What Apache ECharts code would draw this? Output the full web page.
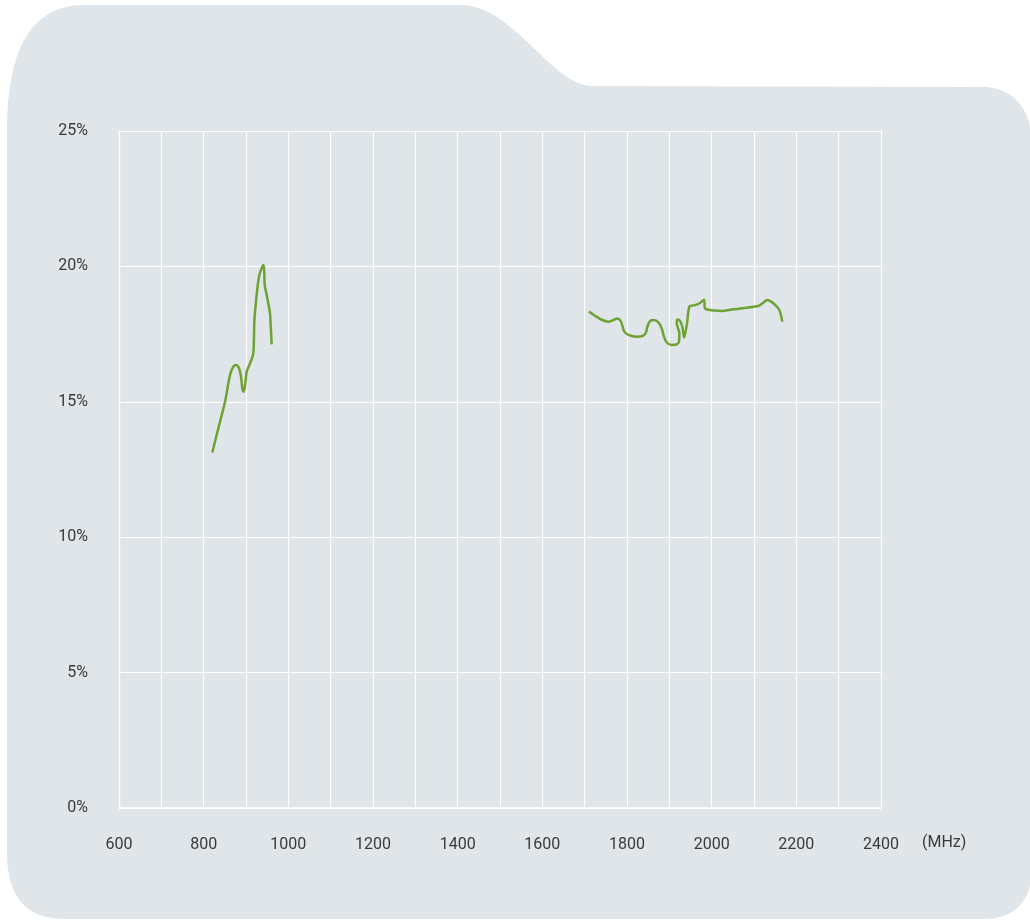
<!DOCTYPE html>
<html>
<head>
<meta charset="utf-8">
<script src="https://cdn.jsdelivr.net/npm/echarts@6/dist/echarts.min.js"></script>
<style>
html,body{margin:0;padding:0;background:#ffffff;}
#c{width:1030px;height:920px;}
</style>
</head>
<body>
<div id="c"></div>
<script>
// Low band (MHz, %)
var lowFreq = [820.4, 834.6, 850.4, 862.2, 870.1, 876.4, 883.5, 888.2, 891.3, 894.6, 898.4, 901.7, 909.5, 917.3, 919.7, 923.6, 930.0, 935.4, 941.8, 944.2, 948.9, 956.7, 958.3, 960.7];
var lowVal  = [13.13, 14.02, 15.00, 15.99, 16.30, 16.36, 16.24, 15.93, 15.50, 15.37, 15.68, 16.11, 16.42, 16.79, 17.96, 18.70, 19.56, 19.87, 20.05, 19.31, 18.94, 18.27, 17.84, 17.12];
// High band (MHz, %)
var highFreq = [1710.2, 1724.4, 1740.2, 1755.9, 1767.7, 1777.1, 1785.2, 1789.8, 1792.9, 1803.1, 1822.8, 1838.6, 1844.9, 1848.1, 1854.4, 1863.9, 1874.0, 1882.0, 1887.5, 1893.8, 1905.6, 1917.4, 1922.9, 1923.7, 1917.4, 1919.7, 1925.2, 1930.7, 1935.0, 1941.8, 1948.0, 1960.6, 1972.4, 1981.9, 1984.2, 2000.0, 2027.5, 2043.3, 2110.0, 2120.5, 2131.5, 2145.7, 2159.8, 2166.9];
var highVal  = [18.33, 18.18, 18.03, 17.96, 18.02, 18.08, 17.98, 17.77, 17.61, 17.47, 17.40, 17.44, 17.57, 17.77, 17.98, 18.02, 17.93, 17.71, 17.40, 17.19, 17.10, 17.12, 17.22, 17.53, 17.90, 18.04, 17.99, 17.77, 17.37, 17.90, 18.53, 18.57, 18.65, 18.77, 18.45, 18.38, 18.35, 18.40, 18.54, 18.64, 18.76, 18.64, 18.39, 17.96];
// Axis settings
var xMin = 600, xMax = 2400, xStep = 200;
var yMin = 0, yMax = 25, yStep = 5;
var xUnit = '(MHz)';

function zip(a, b) { return a.map(function (v, i) { return [v, b[i]]; }); }

// decorative folder-shaped backdrop, sampled from bezier segments
function folderPoints() {
  var segs = [
    ['L', [85, 5], [460, 5]],
    ['C', [460, 5], [515, 5], [550, 86], [593, 86]],
    ['L', [593, 86], [983, 87]],
    ['C', [983, 87], [1012, 87], [1031, 110], [1031, 137]],
    ['L', [1031, 137], [1031, 875]],
    ['C', [1031, 875], [1031, 902], [1012, 919], [985, 919]],
    ['L', [985, 919], [65, 919]],
    ['C', [65, 919], [27, 919], [7, 898], [7, 852]],
    ['L', [7, 852], [7, 132]],
    ['C', [7, 132], [7, 50], [30, 5], [85, 5]]
  ];
  var pts = [];
  segs.forEach(function (s) {
    if (s[0] === 'L') { pts.push(s[1], s[2]); }
    else {
      var p0 = s[1], p1 = s[2], p2 = s[3], p3 = s[4];
      for (var i = 0; i <= 30; i++) {
        var t = i / 30, u = 1 - t;
        pts.push([
          u*u*u*p0[0] + 3*u*u*t*p1[0] + 3*u*t*t*p2[0] + t*t*t*p3[0],
          u*u*u*p0[1] + 3*u*u*t*p1[1] + 3*u*t*t*p2[1] + t*t*t*p3[1]
        ]);
      }
    }
  });
  return pts;
}

var chart = echarts.init(document.getElementById('c'));
var fontFam = 'Roboto, "Noto Sans", sans-serif';
var txt = '#3a3a3a';
var lineColor = '#6ea334';

chart.setOption({
  animation: false,
  backgroundColor: '#ffffff',
  graphic: [{
    type: 'polygon',
    z: -10,
    silent: true,
    shape: { points: folderPoints() },
    style: { fill: '#dfe5e8' }
  }],
  grid: { left: 119, right: 149, top: 131, bottom: 112, containLabel: false },
  xAxis: {
    type: 'value',
    min: xMin, max: xMax, interval: xStep,
    name: xUnit,
    nameLocation: 'end',
    nameGap: 41,
    nameTextStyle: { color: txt, fontSize: 16, fontFamily: fontFam, verticalAlign: 'top', lineHeight: 70 },
    axisLine: { show: true, lineStyle: { color: '#ffffff', width: 1.5 } },
    axisTick: { show: false },
    axisLabel: { color: txt, fontSize: 16, fontFamily: fontFam, margin: 29,
      formatter: function (v) { return String(v); } },
    splitLine: { show: true, lineStyle: { color: '#ffffff', width: 1.2 } },
    minorTick: { show: false, splitNumber: 2 },
    minorSplitLine: { show: true, lineStyle: { color: '#ffffff', width: 1.2 } }
  },
  yAxis: {
    type: 'value',
    min: yMin, max: yMax, interval: yStep,
    axisLine: { show: true, lineStyle: { color: '#ffffff', width: 1.2 } },
    axisTick: { show: false },
    axisLabel: { color: txt, fontSize: 16, fontFamily: fontFam, margin: 31, formatter: '{value}%' },
    splitLine: { show: true, lineStyle: { color: '#ffffff', width: 1.2 } }
  },
  series: [
    { type: 'line', data: zip(lowFreq, lowVal), showSymbol: false, smooth: 0.3,
      lineStyle: { color: lineColor, width: 2.5 }, itemStyle: { color: lineColor } },
    { type: 'line', data: zip(highFreq, highVal), showSymbol: false, smooth: 0.3,
      lineStyle: { color: lineColor, width: 2.5 }, itemStyle: { color: lineColor } }
  ]
});
</script>
</body>
</html>
